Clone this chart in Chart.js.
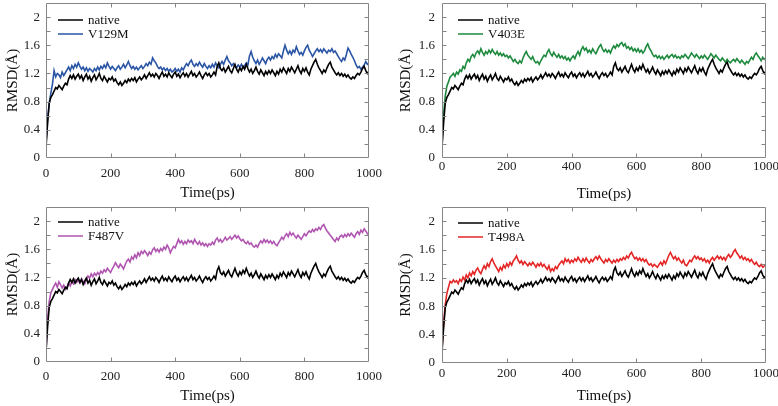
<!DOCTYPE html>
<html><head><meta charset="utf-8">
<script src="https://cdn.jsdelivr.net/npm/chart.js@4.4.0/dist/chart.umd.min.js"></script>
<style>
html,body{margin:0;padding:0;background:#fff;}
#wrap{position:relative;width:778px;height:406px;overflow:hidden;}
canvas{position:absolute;}
</style></head><body>
<div id="wrap">
<canvas id="c1" width="389" height="203" style="left:0;top:0"></canvas>
<canvas id="c2" width="389" height="203" style="left:389px;top:0"></canvas>
<canvas id="c3" width="389" height="203" style="left:0;top:203px"></canvas>
<canvas id="c4" width="389" height="203" style="left:389px;top:203px"></canvas>
</div>
<script>
const time = [
0,5,10,15,20,25,30,35,40,45,50,55,60,65,70,75,80,85,90,95,
100,105,110,115,120,125,130,135,140,145,150,155,160,165,170,175,180,185,190,195,
200,205,210,215,220,225,230,235,240,245,250,255,260,265,270,275,280,285,290,295,
300,305,310,315,320,325,330,335,340,345,350,355,360,365,370,375,380,385,390,395,
400,405,410,415,420,425,430,435,440,445,450,455,460,465,470,475,480,485,490,495,
500,505,510,515,520,525,530,535,540,545,550,555,560,565,570,575,580,585,590,595,
600,605,610,615,620,625,630,635,640,645,650,655,660,665,670,675,680,685,690,695,
700,705,710,715,720,725,730,735,740,745,750,755,760,765,770,775,780,785,790,795,
800,805,810,815,820,825,830,835,840,845,850,855,860,865,870,875,880,885,890,895,
900,905,910,915,920,925,930,935,940,945,950,955,960,965,970,975,980,985,990,995,
1000];

const native = [
0.15,0.50,0.78,0.86,0.90,0.95,1.00,0.98,1.03,1.00,0.97,1.02,1.06,1.04,1.12,1.17,1.13,1.18,1.12,1.16,
1.19,1.13,1.17,1.10,1.15,1.19,1.12,1.16,1.09,1.14,1.18,1.11,1.15,1.20,1.13,1.10,1.16,1.12,1.08,1.13,
1.11,1.15,1.09,1.12,1.07,1.04,1.08,1.03,1.06,1.10,1.07,1.12,1.09,1.13,1.10,1.14,1.08,1.12,1.15,1.11,
1.14,1.18,1.13,1.17,1.21,1.16,1.19,1.15,1.20,1.17,1.13,1.18,1.22,1.16,1.19,1.15,1.21,1.17,1.14,1.19,
1.22,1.16,1.19,1.14,1.18,1.21,1.16,1.20,1.15,1.19,1.23,1.17,1.20,1.15,1.18,1.22,1.17,1.13,1.18,1.21,
1.17,1.20,1.15,1.18,1.22,1.18,1.30,1.35,1.27,1.24,1.28,1.22,1.26,1.30,1.24,1.21,1.27,1.33,1.26,1.22,
1.28,1.24,1.30,1.26,1.33,1.27,1.22,1.26,1.20,1.24,1.29,1.23,1.19,1.25,1.21,1.17,1.23,1.19,1.24,1.20,
1.25,1.21,1.17,1.23,1.19,1.26,1.22,1.28,1.24,1.20,1.27,1.23,1.29,1.25,1.21,1.26,1.31,1.24,1.20,1.27,
1.23,1.28,1.22,1.18,1.26,1.31,1.36,1.40,1.33,1.28,1.24,1.20,1.25,1.22,1.28,1.33,1.36,1.29,1.25,1.21,
1.18,1.21,1.17,1.20,1.16,1.19,1.15,1.18,1.14,1.12,1.15,1.13,1.17,1.20,1.18,1.22,1.27,1.30,1.24,1.20,
1.23];

const v129m = [
0.20,0.55,0.78,0.92,1.05,1.24,1.15,1.20,1.18,1.14,1.22,1.17,1.21,1.25,1.29,1.24,1.31,1.27,1.33,1.29,
1.35,1.30,1.26,1.29,1.24,1.28,1.23,1.27,1.25,1.22,1.27,1.24,1.29,1.25,1.30,1.27,1.32,1.28,1.35,1.30,
1.26,1.30,1.27,1.24,1.28,1.31,1.26,1.29,1.33,1.28,1.32,1.37,1.31,1.27,1.30,1.26,1.29,1.25,1.28,1.31,
1.27,1.30,1.34,1.31,1.36,1.33,1.42,1.38,1.35,1.30,1.27,1.29,1.25,1.28,1.24,1.27,1.23,1.26,1.22,1.24,
1.27,1.23,1.26,1.22,1.28,1.25,1.30,1.34,1.31,1.36,1.39,1.33,1.30,1.34,1.31,1.36,1.32,1.29,1.34,1.30,
1.27,1.31,1.28,1.33,1.29,1.35,1.31,1.28,1.33,1.37,1.33,1.39,1.44,1.38,1.35,1.31,1.34,1.30,1.28,1.32,
1.29,1.33,1.28,1.31,1.35,1.32,1.45,1.51,1.43,1.38,1.34,1.39,1.33,1.37,1.42,1.38,1.34,1.40,1.43,1.39,
1.44,1.41,1.47,1.43,1.48,1.45,1.42,1.52,1.60,1.53,1.48,1.52,1.47,1.53,1.50,1.58,1.52,1.47,1.50,1.46,
1.52,1.57,1.60,1.53,1.49,1.44,1.48,1.52,1.55,1.51,1.54,1.50,1.55,1.52,1.49,1.53,1.51,1.55,1.50,1.52,
1.48,1.44,1.40,1.37,1.42,1.39,1.47,1.56,1.52,1.47,1.43,1.38,1.32,1.28,1.30,1.26,1.29,1.32,1.37,1.33,
1.35];

const v403e = [
0.20,0.62,0.88,1.02,1.08,1.15,1.17,1.20,1.16,1.22,1.19,1.25,1.23,1.30,1.27,1.35,1.40,1.37,1.44,1.47,
1.43,1.49,1.52,1.48,1.55,1.50,1.46,1.51,1.48,1.53,1.49,1.54,1.50,1.47,1.51,1.46,1.49,1.45,1.48,1.44,
1.46,1.42,1.45,1.41,1.37,1.40,1.36,1.34,1.38,1.35,1.42,1.47,1.51,1.46,1.43,1.40,1.44,1.38,1.35,1.37,
1.33,1.38,1.42,1.46,1.44,1.50,1.54,1.48,1.45,1.50,1.46,1.43,1.47,1.42,1.45,1.41,1.44,1.39,1.42,1.38,
1.42,1.45,1.41,1.47,1.51,1.46,1.54,1.58,1.53,1.56,1.50,1.53,1.49,1.55,1.51,1.48,1.53,1.58,1.61,1.55,
1.51,1.54,1.50,1.53,1.49,1.55,1.59,1.56,1.61,1.58,1.62,1.64,1.59,1.62,1.56,1.58,1.54,1.57,1.52,1.55,
1.51,1.55,1.50,1.53,1.49,1.52,1.58,1.62,1.56,1.52,1.47,1.44,1.46,1.42,1.45,1.41,1.44,1.40,1.43,1.46,
1.42,1.45,1.47,1.43,1.46,1.42,1.44,1.41,1.45,1.43,1.47,1.44,1.41,1.45,1.49,1.46,1.43,1.47,1.44,1.41,
1.45,1.42,1.46,1.43,1.40,1.44,1.48,1.45,1.42,1.46,1.43,1.40,1.38,1.42,1.39,1.36,1.40,1.37,1.35,1.38,
1.40,1.37,1.41,1.38,1.35,1.39,1.36,1.33,1.37,1.35,1.39,1.43,1.40,1.46,1.49,1.45,1.42,1.38,1.43,1.40,
1.42];

const f487v = [
0.15,0.62,0.86,0.98,1.03,1.08,1.12,1.06,1.14,1.10,1.05,1.09,1.03,1.07,1.12,1.08,1.14,1.11,1.17,1.13,
1.16,1.12,1.18,1.14,1.11,1.17,1.22,1.19,1.25,1.21,1.26,1.23,1.27,1.24,1.29,1.26,1.31,1.28,1.33,1.30,
1.27,1.32,1.36,1.41,1.37,1.34,1.39,1.36,1.32,1.38,1.43,1.46,1.42,1.49,1.46,1.52,1.48,1.55,1.51,1.57,
1.54,1.58,1.55,1.51,1.56,1.53,1.59,1.62,1.57,1.60,1.56,1.61,1.58,1.63,1.60,1.66,1.62,1.55,1.60,1.64,
1.62,1.68,1.74,1.69,1.72,1.67,1.71,1.68,1.73,1.70,1.72,1.68,1.74,1.70,1.67,1.71,1.66,1.69,1.65,1.68,
1.64,1.68,1.66,1.70,1.67,1.73,1.76,1.71,1.74,1.70,1.73,1.77,1.73,1.75,1.78,1.74,1.77,1.80,1.76,1.79,
1.75,1.72,1.74,1.70,1.68,1.71,1.67,1.69,1.65,1.63,1.66,1.63,1.68,1.72,1.69,1.74,1.70,1.73,1.69,1.72,
1.68,1.71,1.67,1.65,1.69,1.73,1.77,1.74,1.79,1.82,1.78,1.84,1.80,1.83,1.79,1.76,1.80,1.77,1.74,1.78,
1.82,1.79,1.83,1.86,1.84,1.88,1.85,1.89,1.87,1.91,1.88,1.93,1.95,1.90,1.86,1.83,1.80,1.77,1.74,1.71,
1.76,1.73,1.78,1.80,1.77,1.81,1.78,1.82,1.79,1.83,1.80,1.77,1.82,1.85,1.81,1.87,1.84,1.89,1.86,1.82,
1.80];

const t498a = [
0.20,0.55,0.82,0.98,1.07,1.15,1.13,1.17,1.14,1.16,1.12,1.18,1.15,1.21,1.17,1.24,1.20,1.27,1.23,1.29,
1.25,1.31,1.34,1.29,1.26,1.32,1.37,1.33,1.40,1.36,1.43,1.47,1.41,1.37,1.33,1.29,1.35,1.31,1.38,1.34,
1.40,1.36,1.42,1.38,1.44,1.47,1.51,1.45,1.41,1.44,1.39,1.43,1.40,1.37,1.41,1.38,1.42,1.39,1.35,1.40,
1.37,1.41,1.36,1.39,1.35,1.32,1.37,1.29,1.33,1.30,1.36,1.33,1.38,1.41,1.44,1.40,1.47,1.43,1.46,1.41,
1.45,1.42,1.47,1.44,1.49,1.45,1.42,1.47,1.43,1.48,1.44,1.41,1.46,1.43,1.47,1.50,1.46,1.51,1.47,1.44,
1.41,1.46,1.43,1.47,1.44,1.41,1.45,1.42,1.46,1.43,1.47,1.45,1.49,1.46,1.51,1.48,1.53,1.56,1.51,1.47,
1.49,1.45,1.48,1.44,1.47,1.43,1.46,1.41,1.38,1.40,1.36,1.39,1.37,1.35,1.39,1.42,1.38,1.44,1.40,1.46,
1.52,1.56,1.51,1.47,1.50,1.45,1.48,1.44,1.41,1.45,1.39,1.37,1.41,1.45,1.43,1.48,1.51,1.47,1.50,1.46,
1.48,1.44,1.47,1.42,1.45,1.41,1.46,1.49,1.45,1.48,1.51,1.47,1.50,1.46,1.49,1.45,1.50,1.53,1.49,1.52,
1.57,1.60,1.55,1.52,1.48,1.51,1.46,1.49,1.45,1.47,1.43,1.46,1.42,1.39,1.42,1.38,1.36,1.39,1.35,1.37,
1.38];

const nativeLabel = 'native';
const mutantLabels = ['V129M', 'V403E', 'F487V', 'T498A'];
const mutantSeries = [v129m, v403e, f487v, t498a];
const xTickValues = [0, 200, 400, 600, 800, 1000];
const yMinorTicks = [0.2, 0.4, 0.6, 0.8, 1.0, 1.2, 1.4, 1.6, 1.8, 2.0];
const xTitle = 'Time(ps)';
const yTitle = 'RMSD(Å)';

const mutantColors = ['#2a55a5', '#1e8a3e', '#b055b0', '#e42626'];
const SERIF = '"Liberation Serif","Times New Roman",serif';
Chart.defaults.font.family = SERIF;

// per-panel layout (canvas-relative pixels)
const panels = [
  {id:'c1', yW:46, padR:20, padT:3, xH:45, xTickPad:8, xTitlePad:1, yTitlePad:4, yTickPad:6, legDx:12, legDy:17},
  {id:'c2', yW:53, padR:12, padT:3, xH:45, xTickPad:1, xTitlePad:0, yTitlePad:8, yTickPad:7, legDx:16, legDy:17},
  {id:'c3', yW:46, padR:20, padT:4, xH:44, xTickPad:7, xTitlePad:1, yTitlePad:4, yTickPad:6, legDx:12, legDy:15},
  {id:'c4', yW:53, padR:12, padT:4, xH:43, xTickPad:3, xTitlePad:1, yTitlePad:8, yTickPad:7, legDx:16, legDy:16}
];

const framePlugin = {
  id: 'frame',
  afterDatasetsDraw(chart, args, opts) {
    const {ctx, chartArea} = chart;
    const xs = chart.scales.x, ys = chart.scales.y;
    const L = Math.round(chartArea.left) + 0.5, R = Math.round(chartArea.right) - 0.5;
    const T = Math.round(chartArea.top) + 0.5, B = Math.round(chartArea.bottom) - 0.5;
    ctx.save();
    ctx.strokeStyle = '#858585';
    ctx.lineWidth = 1;
    ctx.beginPath();
    ctx.rect(L, T, R - L, B - T);
    const tl = 4;
    xTickValues.forEach(v => {
      if (v <= xs.min || v >= xs.max) return;
      const px = Math.round(xs.getPixelForValue(v)) + 0.5;
      ctx.moveTo(px, B); ctx.lineTo(px, B - tl);
      ctx.moveTo(px, T); ctx.lineTo(px, T + tl);
    });
    yMinorTicks.forEach(v => {
      const py = Math.round(ys.getPixelForValue(v)) + 0.5;
      ctx.moveTo(L, py); ctx.lineTo(L + tl, py);
      ctx.moveTo(R, py); ctx.lineTo(R - tl, py);
    });
    ctx.stroke();
    // legend
    ctx.font = '13px ' + SERIF;
    ctx.textBaseline = 'middle';
    ctx.textAlign = 'left';
    chart.data.datasets.forEach((ds, i) => {
      const y = chartArea.top + opts.legDy + 14 * i;
      const x0 = chartArea.left + opts.legDx;
      ctx.strokeStyle = ds.borderColor;
      ctx.lineWidth = 1.5;
      ctx.beginPath();
      ctx.moveTo(x0, y); ctx.lineTo(x0 + 25, y);
      ctx.stroke();
      ctx.fillStyle = '#111';
      ctx.fillText(ds.label, x0 + 30, y + 0.5);
    });
    ctx.restore();
  }
};

panels.forEach((p, k) => {
  const toPts = arr => arr.map((v, i) => ({x: time[i], y: v}));
  new Chart(document.getElementById(p.id), {
    type: 'line',
    data: {
      datasets: [
        {label: nativeLabel, data: toPts(native), borderColor: '#000000', borderWidth: 1.6, pointRadius: 0, tension: 0},
        {label: mutantLabels[k], data: toPts(mutantSeries[k]), borderColor: mutantColors[k], borderWidth: 1.6, pointRadius: 0, tension: 0}
      ]
    },
    options: {
      responsive: false,
      animation: false,
      devicePixelRatio: 1,
      layout: {padding: {left: 0, right: p.padR, top: p.padT, bottom: 0}},
      plugins: {legend: {display: false}, tooltip: {enabled: false}, frame: {legDx: p.legDx, legDy: p.legDy}},
      scales: {
        x: {
          type: 'linear', min: 0, max: 1000,
          grid: {display: false, drawTicks: false},
          border: {display: false},
          ticks: {stepSize: 200, maxRotation: 0, autoSkip: false, padding: p.xTickPad, color: '#222', font: {size: 13, family: SERIF},
                  callback: v => String(Math.round(v))},
          title: {display: true, text: xTitle, color: '#111', font: {size: 15, family: SERIF}, padding: {top: 0, bottom: p.xTitlePad}},
          afterFit: s => { s.height = p.xH; s.paddingLeft = 0; s.paddingRight = 0; }
        },
        y: {
          type: 'linear', min: 0, max: 2.2,
          grid: {display: false, drawTicks: false},
          border: {display: false},
          ticks: {stepSize: 0.4, includeBounds: false, padding: p.yTickPad, color: '#222', font: {size: 13, family: SERIF},
                  callback: v => String(+Number(v).toFixed(1))},
          title: {display: true, text: yTitle, color: '#111', font: {size: 15, family: SERIF}, padding: {top: p.yTitlePad, bottom: 0}},
          afterFit: s => { s.width = p.yW; s.paddingTop = 0; s.paddingBottom = 0; }
        }
      }
    },
    plugins: [framePlugin]
  });
});
</script>
</body></html>
